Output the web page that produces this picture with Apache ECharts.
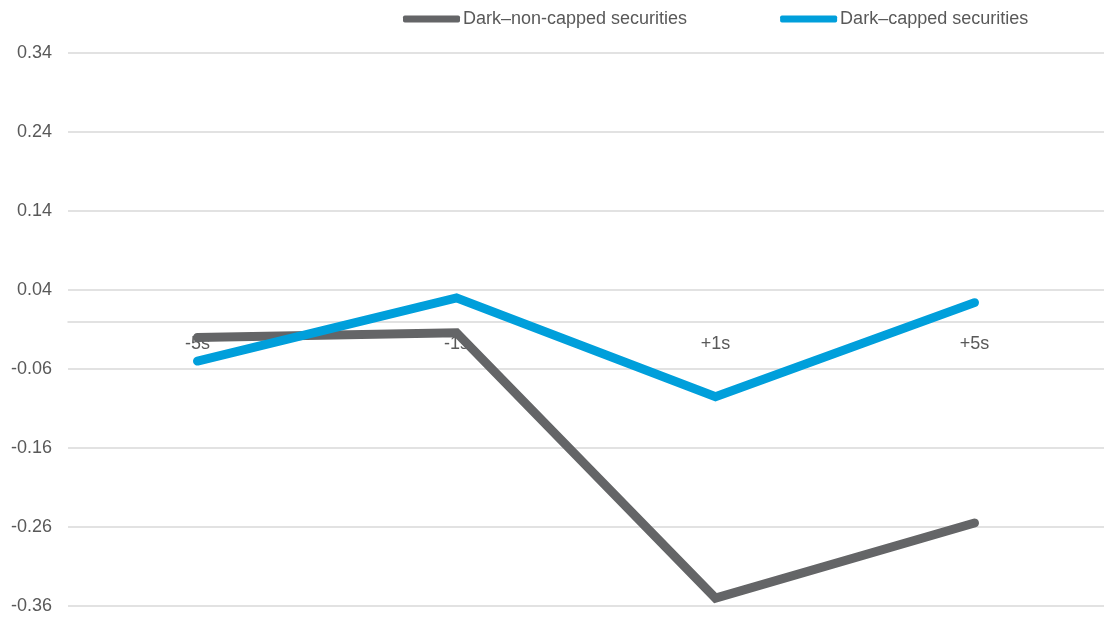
<!DOCTYPE html>
<html>
<head>
<meta charset="utf-8">
<script src="https://cdn.jsdelivr.net/npm/echarts@6/dist/echarts.min.js"></script>
<style>
  html, body { margin: 0; padding: 0; background: #ffffff; }
  #chart { width: 1104px; height: 617px; }
</style>
</head>
<body>
<div id="chart"></div>
<script>
// Time offsets around the event
const categories = ['-5s', '-1s', '+1s', '+5s'];
// Series values
const darkNonCapped = [-0.02, -0.014, -0.35, -0.255];
const darkCapped = [-0.05, 0.03, -0.095, 0.024];
const seriesNames = ['Dark\u2013non-capped securities', 'Dark\u2013capped securities'];
// Value axis range
const yMin = -0.36;
const yMax = 0.34;
const yStep = 0.1;

const chart = echarts.init(document.getElementById('chart'));
const textColor = '#595959';
const gridColor = '#d9d9d9';

chart.setOption({
  animation: false,
  textStyle: { fontFamily: 'Liberation Sans, Arial, sans-serif' },
  legend: {
    top: 5,
    left: 398,
    itemWidth: 57,
    itemHeight: 7,
    itemGap: 93,
    icon: 'roundRect',
    textStyle: { color: textColor, fontSize: 18, padding: [0, 0, 0, -2] },
    data: seriesNames
  },
  grid: { left: 68, right: 0, top: 53, bottom: 11, containLabel: false, outerBoundsMode: 'none' },
  xAxis: {
    type: 'category',
    data: categories,
    boundaryGap: true,
    axisLine: { onZero: false, lineStyle: { color: gridColor, width: 1.5 } },
    axisTick: { show: false },
    axisLabel: { color: textColor, fontSize: 18, margin: 13 },
    splitLine: { show: false }
  },
  yAxis: {
    type: 'value',
    min: yMin,
    max: yMax,
    interval: yStep,
    axisLine: { show: false },
    axisTick: { show: false },
    axisLabel: {
      color: textColor,
      fontSize: 18,
      margin: 16,
      formatter: v => v.toFixed(2)
    },
    splitLine: { lineStyle: { color: gridColor, width: 1.5 } }
  },
  series: [
    {
      name: seriesNames[0],
      type: 'line',
      data: darkNonCapped,
      symbol: 'none',
      lineStyle: { color: '#646567', width: 9, cap: 'round', join: 'miter' },
      itemStyle: { color: '#646567' }
    },
    {
      name: seriesNames[1],
      type: 'line',
      data: darkCapped,
      symbol: 'none',
      lineStyle: { color: '#009fdb', width: 9, cap: 'round', join: 'miter' },
      itemStyle: { color: '#009fdb' }
    }
  ]
});

// Move the category axis (line and labels) up to the zero value
const zeroPx = chart.convertToPixel({ yAxisIndex: 0 }, 0);
const bottomPx = chart.convertToPixel({ yAxisIndex: 0 }, yMin);
chart.setOption({ xAxis: { offset: -(bottomPx - zeroPx) } });
</script>
</body>
</html>
